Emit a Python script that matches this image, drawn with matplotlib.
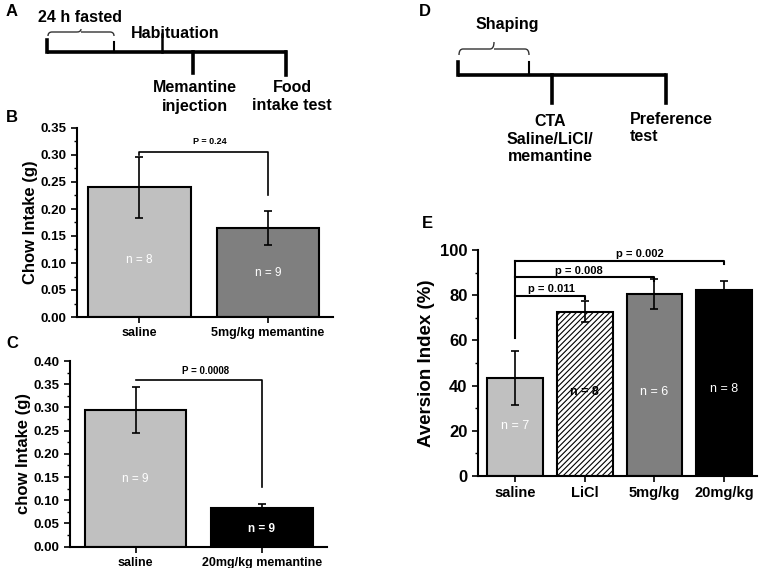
import matplotlib
matplotlib.use("Agg")
import matplotlib.pyplot as plt
from matplotlib.path import Path
from matplotlib.patches import PathPatch
from matplotlib.ticker import MultipleLocator

plt.rcParams['font.family'] = ['Liberation Sans', 'DejaVu Sans']
plt.rcParams['hatch.linewidth'] = 0.8
plt.rcParams['hatch.color'] = '#333333'

# ---------------- data ----------------
b_groups = ["saline", "5mg/kg memantine"]
b_means = [0.240, 0.165]
b_sem = [0.056, 0.032]
b_n = ["n = 8", "n = 9"]
b_n_y = [0.105, 0.081]
b_colors = ["#c0c0c0", "#7f7f7f"]
b_p = "P = 0.24"

c_groups = ["saline", "20mg/kg memantine"]
c_means = [0.295, 0.083]
c_sem = [0.050, 0.009]
c_n = ["n = 9", "n = 9"]
c_n_y = [0.146, 0.038]
c_colors = ["#c0c0c0", "#000000"]
c_p = "P = 0.0008"

e_groups = ["saline", "LiCl", "5mg/kg", "20mg/kg"]
e_means = [43.5, 72.7, 80.5, 82.3]
e_sem = [12.0, 4.7, 6.6, 4.0]
e_n = ["n = 7", "n = 8", "n = 6", "n = 8"]
e_n_y = [22, 37.3, 37.3, 38.5]
e_colors = ["#c0c0c0", "#ffffff", "#7f7f7f", "#000000"]
e_n_colors = ["white", "black", "white", "white"]
e_p = ["p = 0.011", "p = 0.008", "p = 0.002"]
e_p_y = [79.6, 87.9, 95.1]

W, H = 765, 568
fig = plt.figure(figsize=(W / 100, H / 100), dpi=100)

def ax_px(left, top, right, bottom):
    return fig.add_axes([left / W, 1 - bottom / H, (right - left) / W, (bottom - top) / H])

def style(ax):
    for s in ["top", "right"]:
        ax.spines[s].set_visible(False)
    for s in ["left", "bottom"]:
        ax.spines[s].set_linewidth(1.5)
    ax.tick_params(axis="both", direction="out", width=1.2, length=4)
    ax.tick_params(axis="y", which="minor", direction="out", width=1, length=2)
    for t in ax.get_xticklabels() + ax.get_yticklabels():
        t.set_fontweight("bold")

def bars(ax, means, sem, colors, hatches=None):
    x = list(range(len(means)))
    bs = ax.bar(x, means, width=0.8, color=colors, edgecolor="black", linewidth=1.5,
                hatch=hatches, zorder=2)
    ax.errorbar(x, means, yerr=sem, fmt="none", ecolor="black", elinewidth=1.2,
                capsize=3, capthick=1.2, zorder=3)
    return bs

# ---------------- panel B ----------------
axB = ax_px(77, 128, 333, 317)
bars(axB, b_means, b_sem, b_colors)
axB.set_xlim(-0.486, 1.506)
axB.set_ylim(0, 0.35)
axB.set_yticks([i * 0.05 for i in range(8)])
axB.set_yticklabels(["%.2f" % (i * 0.05) for i in range(8)], fontsize=9.5)
axB.yaxis.set_minor_locator(MultipleLocator(0.025))
axB.set_xticks([0, 1])
axB.set_xticklabels(b_groups, fontsize=9)
axB.set_ylabel("Chow Intake (g)", fontsize=12, fontweight="bold", labelpad=2)
style(axB)
axB.plot([0, 0, 1, 1], [0.300, 0.306, 0.306, 0.226], color="black", lw=1.2, clip_on=False)
axB.text(0.55, 0.316, b_p, ha="center", va="bottom", fontsize=6.5, fontweight="bold")
for i in range(2):
    axB.text(i, b_n_y[i], b_n[i], ha="center", va="center", fontsize=8.5, color="white")

# ---------------- panel C ----------------
axC = ax_px(70, 361, 327, 546.7)
bars(axC, c_means, c_sem, c_colors)
axC.set_xlim(-0.518, 1.514)
axC.set_ylim(0, 0.40)
axC.set_yticks([i * 0.05 for i in range(9)])
axC.set_yticklabels(["%.2f" % (i * 0.05) for i in range(9)], fontsize=9.5)
axC.yaxis.set_minor_locator(MultipleLocator(0.025))
axC.set_xticks([0, 1])
axC.set_xticklabels(c_groups, fontsize=9)
axC.set_ylabel("chow Intake (g)", fontsize=12, fontweight="bold", labelpad=2)
style(axC)
axC.plot([0, 1, 1], [0.359, 0.359, 0.129], color="black", lw=1.2, clip_on=False)
axC.text(0.55, 0.368, c_p, ha="center", va="bottom", fontsize=7, fontweight="bold")
for i in range(2):
    axC.text(i, c_n_y[i], c_n[i], ha="center", va="center", fontsize=8.5, color="white",
             fontweight="bold" if i == 1 else "normal")

# ---------------- panel E ----------------
axE = ax_px(478, 250, 757, 476)
bars(axE, e_means, e_sem, e_colors, hatches=["", "//////", "", ""])
axE.set_xlim(-0.53, 3.47)
axE.set_ylim(0, 100)
axE.set_yticks(range(0, 101, 20))
axE.set_yticklabels([str(v) for v in range(0, 101, 20)], fontsize=12)
axE.yaxis.set_minor_locator(MultipleLocator(10))
axE.set_xticks(range(4))
axE.set_xticklabels(e_groups, fontsize=10.5)
axE.set_ylabel("Aversion Index (%)", fontsize=13.5, fontweight="bold", labelpad=4)
style(axE)
axE.plot([0, 0], [61, e_p_y[2]], color="black", lw=1.5)
for k, yy in enumerate(e_p_y):
    xe = k + 1
    axE.plot([0, xe, xe], [yy, yy, yy - 1.5], color="black", lw=1.5)
e_p_x = [0.53, 0.92, 1.79]
for k in range(3):
    axE.text(e_p_x[k], e_p_y[k] + 0.8, e_p[k], ha="center", va="bottom",
             fontsize=8, fontweight="bold")
for i in range(4):
    axE.text(i, e_n_y[i], e_n[i], ha="center", va="center", fontsize=9,
             color=e_n_colors[i], fontweight="bold" if i == 1 else "normal")

# ---------------- overlay for timelines & panel letters ----------------
ov = fig.add_axes([0, 0, 1, 1], zorder=-1)
ov.set_xlim(0, W)
ov.set_ylim(H, 0)
ov.axis("off")

def brace(x0, x1, ybase, ytop, ypeak):
    xc = (x0 + x1) / 2
    verts = [(x0, ybase), (x0, ytop), (x0 + 4, ytop),
             (xc - 4, ytop), (xc, ytop), (xc, ypeak),
             (xc, ytop), (xc + 4, ytop),
             (x1 - 4, ytop), (x1, ytop), (x1, ybase)]
    codes = [Path.MOVETO, Path.CURVE3, Path.CURVE3,
             Path.LINETO, Path.CURVE3, Path.CURVE3,
             Path.MOVETO, Path.LINETO,
             Path.LINETO, Path.CURVE3, Path.CURVE3]
    ov.add_patch(PathPatch(Path(verts, codes), fill=False, lw=1, color="#333333"))

lw_t = 2.6
# Panel A timeline
ov.plot([47, 287], [52, 52], color="black", lw=lw_t, solid_capstyle="butt")
ov.plot([47, 47], [52, 40], color="black", lw=lw_t)
ov.plot([114, 114], [52, 42], color="black", lw=1.5)
ov.plot([162, 162], [52, 34], color="black", lw=1.8)
ov.plot([193, 193], [52, 73], color="black", lw=lw_t)
ov.plot([286, 286], [52, 75], color="black", lw=lw_t)
brace(48, 114, 36, 32, 29)
tkw = dict(fontsize=11.5, color="black", fontweight="bold")
ov.text(80, 18, "24 h fasted", ha="center", va="center", **tkw)
ov.text(175, 33, "Habituation", ha="center", va="center", **tkw)
ov.text(195, 97, "Memantine\ninjection", ha="center", va="center", linespacing=1.25, **tkw)
ov.text(292, 97, "Food\nintake test", ha="center", va="center", linespacing=1.25, **tkw)

# Panel D timeline
ov.plot([458, 666], [75, 75], color="black", lw=lw_t, solid_capstyle="butt")
ov.plot([458, 458], [75, 62], color="black", lw=lw_t)
ov.plot([529, 529], [75, 62], color="black", lw=1.5)
ov.plot([552, 552], [75, 103], color="black", lw=lw_t)
ov.plot([666, 666], [75, 103], color="black", lw=lw_t)
brace(459, 529, 55, 49, 42)
ov.text(507, 25, "Shaping", ha="center", va="center", **tkw)
ov.text(550, 139, "CTA\nSaline/LiCl/\nmemantine", ha="center", va="center", linespacing=1.2, **tkw)
ov.text(630, 128, "Preference\ntest", ha="left", va="center", linespacing=1.2, **tkw)

lkw = dict(fontsize=12, fontweight="bold", ha="center", va="center")
ov.text(12, 12, "A", **lkw)
ov.text(12, 117, "B", **lkw)
ov.text(12, 343, "C", **lkw)
ov.text(425, 12, "D", **lkw)
ov.text(427, 223, "E", **lkw)

fig.savefig("out.png", dpi=100)
